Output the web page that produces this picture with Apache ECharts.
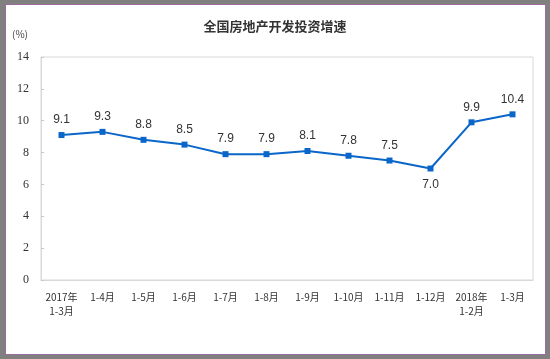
<!DOCTYPE html>
<html><head><meta charset="utf-8">
<script src="https://cdn.jsdelivr.net/npm/echarts@6/dist/echarts.min.js"></script>
<style>
html,body{margin:0;padding:0;width:550px;height:359px;background:#808080;overflow:hidden;}
#frame{position:absolute;left:5px;top:4px;width:539px;height:349px;background:#fff;border:1px solid #9a6c9e;}
#chart{position:absolute;left:0;top:0;width:550px;height:359px;}
</style></head>
<body>
<div id="frame"></div>
<div id="chart"></div>
<script>
var categories = ['2017年\n1-3月','1-4月','1-5月','1-6月','1-7月','1-8月','1-9月','1-10月','1-11月','1-12月','2018年\n1-2月','1-3月'];
var growth = [9.1, 9.3, 8.8, 8.5, 7.9, 7.9, 8.1, 7.8, 7.5, 7.0, 9.9, 10.4];
var yTicks = [0, 2, 4, 6, 8, 10, 12, 14];

var chart = echarts.init(document.getElementById('chart'), null, {renderer:'canvas'});
chart.setOption({
  backgroundColor: 'transparent',
  animation: false,
  title: {
    text: '全国房地产开发投资增速',
    left: 'center', top: 15,
    textStyle: {fontSize: 13, fontWeight: 'bold', color: '#333', fontFamily: 'Noto Sans CJK SC'}
  },
  graphic: [{
    type: 'text', left: 12, top: 29,
    style: {text: '(%)', fontSize: 10, fill: '#444', fontFamily: 'Noto Sans CJK SC'}
  }],
  grid: {left: 41, right: 17, top: 57, bottom: 79, show: true, borderColor: '#d9d9d9', borderWidth: 1},
  xAxis: {
    type: 'category', data: categories, boundaryGap: true,
    axisLine: {lineStyle: {color: '#d9d9d9'}},
    axisTick: {inside: true, length: 3, lineStyle: {color: '#c8c8c8'}},
    axisLabel: {color: '#333', fontSize: 10, margin: 10, lineHeight: 14, interval: 0, fontFamily: 'Noto Sans CJK SC'}
  },
  yAxis: {
    type: 'value', min: yTicks[0], max: yTicks[yTicks.length-1], interval: 2,
    axisLine: {show: true, lineStyle: {color: '#d9d9d9'}},
    axisTick: {show: true, inside: true, length: 3, lineStyle: {color: '#c8c8c8'}},
    splitLine: {show: false},
    axisLabel: {color: '#333', fontSize: 12, margin: 12, fontFamily: 'Liberation Serif'}
  },
  series: [{
    type: 'line',
    symbol: 'rect', symbolSize: 6,
    lineStyle: {color: '#0a66c8', width: 2},
    itemStyle: {color: '#0a66c8'},
    label: {
      show: true, position: 'top', distance: 6, color: '#333', fontSize: 12, fontFamily: 'Liberation Sans',
      formatter: function(p){ return p.value.toFixed(1); }
    },
    data: growth.map(function(v, i){
      return i === 9 ? {value: v, label: {position: 'bottom', distance: 7}} : v;
    })
  }]
});
</script>
</body></html>
